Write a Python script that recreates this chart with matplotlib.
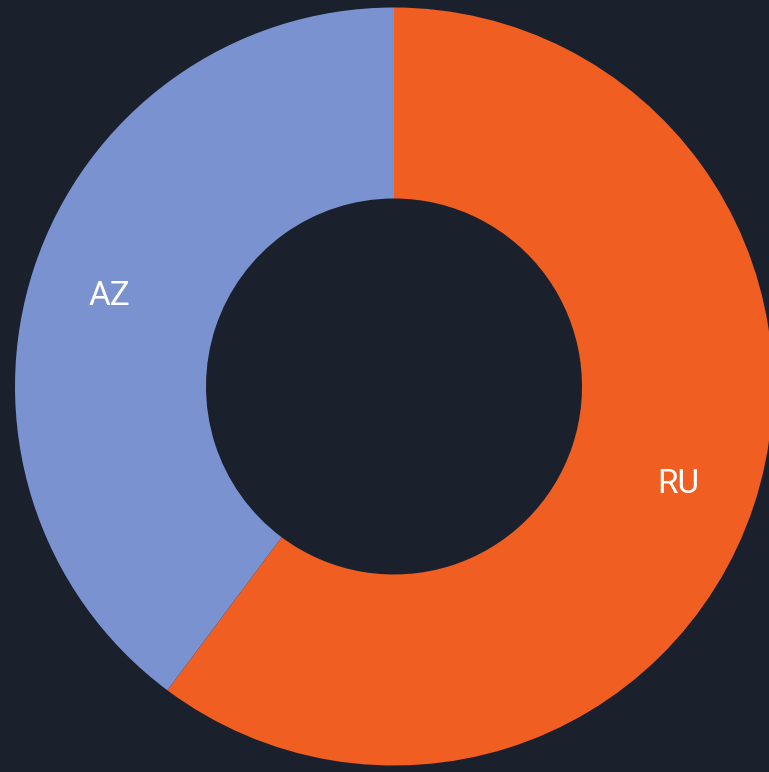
import matplotlib
matplotlib.use("Agg")
import matplotlib.pyplot as plt

labels = ["RU", "AZ"]
values = [60.2, 39.8]
colors = ["#F05E22", "#7A92CF"]
bg = "#1B202D"

W, H = 769, 772
fig = plt.figure(figsize=(W / 100, H / 100), dpi=100, facecolor=bg)
ax = fig.add_axes([0, 0, 1, 1])
ax.set_facecolor(bg)

cx, cy = 394, H - 386.5
R_out, R_in = 379, 188
wedges, texts = ax.pie(values, labels=labels, colors=colors, startangle=90,
                       counterclock=False, center=(cx, cy), radius=R_out,
                       labeldistance=0.79, frame=True,
                       wedgeprops=dict(width=R_out - R_in, linewidth=0),
                       textprops=dict(color="white", fontsize=24, family="Roboto"))
for t in texts:
    t.set_ha("center")
    t.set_va("center_baseline")
ax.set_xlim(0, W)
ax.set_ylim(0, H)
ax.set_aspect("equal")
ax.axis("off")

fig.savefig("out.png", dpi=100, facecolor=bg)
